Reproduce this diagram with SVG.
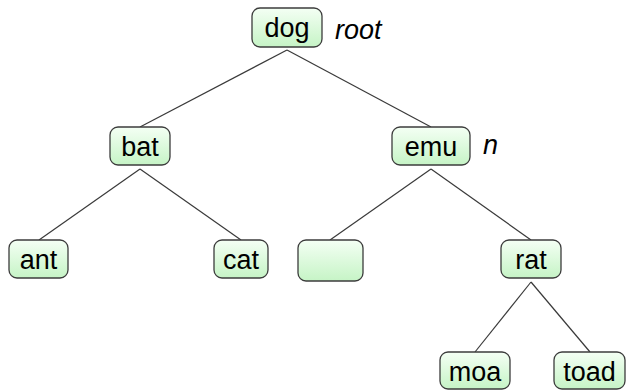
<svg xmlns="http://www.w3.org/2000/svg" width="629" height="391" viewBox="0 0 629 391">
<defs>
<linearGradient id="g" x1="0" y1="0" x2="0" y2="1">
<stop offset="0" stop-color="#f4fff4"/>
<stop offset="1" stop-color="#c6f4c6"/>
</linearGradient>
<style>
.box{fill:url(#g);stroke:#3c3c3c;stroke-width:1.3}
.t{font-family:"Liberation Sans",Arial,sans-serif;font-size:27px;fill:#000;text-anchor:middle}
.lbl{font-family:"Liberation Sans",Arial,sans-serif;font-size:27px;font-style:italic;fill:#000}
.e{stroke:#3a3a3a;stroke-width:1.2;fill:none}
</style>
</defs>
<rect width="629" height="391" fill="#fff"/>
<g id="edges">
<line class="e" x1="287" y1="50" x2="140" y2="127"/>
<line class="e" x1="287" y1="50" x2="431" y2="127"/>
<line class="e" x1="140" y1="169" x2="39" y2="240"/>
<line class="e" x1="140" y1="169" x2="241" y2="240"/>
<line class="e" x1="431" y1="169" x2="330" y2="240"/>
<line class="e" x1="431" y1="169" x2="531" y2="240"/>
<line class="e" x1="531" y1="282" x2="475" y2="352"/>
<line class="e" x1="531" y1="282" x2="590" y2="352"/>
</g>
<g id="dog"><rect class="box" x="252" y="8" width="70" height="39" rx="8"/><text class="t" x="287" y="37">dog</text></g>
<text class="lbl" x="335" y="39">root</text>
<g id="bat"><rect class="box" x="110" y="127" width="60" height="38" rx="8"/><text class="t" x="140" y="156">bat</text></g>
<g id="emu"><rect class="box" x="392" y="127" width="78" height="38" rx="8"/><text class="t" x="431" y="156">emu</text></g>
<text class="lbl" x="483" y="154">n</text>
<g id="ant"><rect class="box" x="9" y="240" width="59" height="38" rx="8"/><text class="t" x="38.5" y="269">ant</text></g>
<g id="cat"><rect class="box" x="214" y="240" width="54" height="38" rx="8"/><text class="t" x="241" y="269">cat</text></g>
<g id="empty"><rect class="box" x="298" y="240" width="65" height="41" rx="8"/></g>
<g id="rat"><rect class="box" x="501" y="240" width="60" height="38" rx="8"/><text class="t" x="531" y="269">rat</text></g>
<g id="moa"><rect class="box" x="440" y="352" width="70" height="37" rx="8"/><text class="t" x="475" y="381">moa</text></g>
<g id="toad"><rect class="box" x="554" y="352" width="71" height="37" rx="8"/><text class="t" x="589.5" y="381">toad</text></g>
</svg>
